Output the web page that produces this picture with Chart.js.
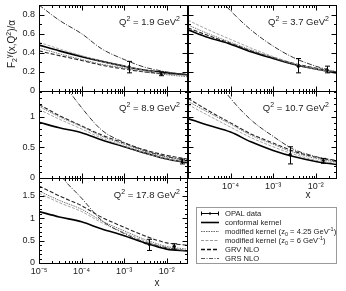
<!DOCTYPE html>
<html>
<head>
<meta charset="utf-8">
<script src="https://cdn.jsdelivr.net/npm/chart.js@4.4.1/dist/chart.umd.min.js"></script>
<style>
  body { margin: 0; background: #fff; }
  #wrap { position: relative; width: 346px; height: 291px; overflow: hidden; font-family: "Liberation Sans", Arial, sans-serif; color: #222; }
  canvas { position: absolute; }
  .lbl { position: absolute; white-space: nowrap; font-size: 10px; line-height: 10px; }
  .lbl sup { font-size: 7px; vertical-align: 4px; line-height: 0; }
  .lbl sub { font-size: 7px; vertical-align: -2px; line-height: 0; }
  .q { font-size: 9.5px; }
  #ylab { left: 12px; top: 44px; transform: translate(-50%, -50%) rotate(-90deg); }
  #legend { position: absolute; left: 196px; top: 207px; width: 141px; height: 57px; border: 1px solid #999; box-sizing: border-box; padding-top: 1px; }
  #legend div { height: 9px; font-size: 7.6px; line-height: 9px; white-space: nowrap; }
  #legend svg { vertical-align: top; margin-left: 3px; margin-right: 5px; }
  #legend sup { font-size: 5.5px; vertical-align: 3px; line-height: 0; }
  #legend sub { font-size: 5.5px; vertical-align: -2px; line-height: 0; }
</style>
</head>
<body>
<div id="wrap">
  <canvas id="c0"></canvas>
  <canvas id="c1"></canvas>
  <canvas id="c2"></canvas>
  <canvas id="c3"></canvas>
  <canvas id="c4"></canvas>
  <div class="lbl" id="ylab">F<sub>2</sub><sup>γ</sup>(x,Q<sup>2</sup>)/α</div>
  <div class="lbl" style="left:157px;top:283px;transform:translate(-50%,-50%)">x</div>
  <div class="lbl" style="left:308px;top:195px;transform:translate(-50%,-50%)">x</div>
  <div id="legend">
    <div><svg width="20" height="9"><path d="M1 4.5H19M1.5 2.5V6.5M18.5 2.5V6.5M10 3V6" stroke="#000" stroke-width="1"/></svg>OPAL data</div>
    <div><svg width="20" height="9"><path d="M1 4.5H19" stroke="#000" stroke-width="1.6"/></svg>conformal kernel</div>
    <div><svg width="20" height="9"><path d="M1 4.5H19" stroke="#666" stroke-width="1" stroke-dasharray="1.5,1"/></svg>modified kernel (z<sub>0</sub> = 4.25 GeV<sup>-1</sup>)</div>
    <div><svg width="20" height="9"><path d="M1 4.5H19" stroke="#999" stroke-width="1" stroke-dasharray="3,1.5"/></svg>modified kernel (z<sub>0</sub> = 6 GeV<sup>-1</sup>)</div>
    <div><svg width="20" height="9"><path d="M1 4.5H19" stroke="#111" stroke-width="1.5" stroke-dasharray="4,2"/></svg>GRV NLO</div>
    <div><svg width="20" height="9"><path d="M1 4.5H19" stroke="#555" stroke-width="1" stroke-dasharray="4,1.5,1,1.5"/></svg>GRS NLO</div>
  </div>
</div>
<script>
// x values where curves are read, one panel per Q^2
const xGrid = [1e-5, 3e-5, 1e-4, 3e-4, 1e-3, 3e-3, 1e-2, 3e-2];
const q2Labels = ['1.9', '3.7', '8.9', '10.7', '17.8'];

const conformal = [
  [0.48, 0.42, 0.36, 0.31, 0.26, 0.22, 0.19, 0.17],
  [0.64, 0.56, 0.49, 0.41, 0.34, 0.28, 0.23, 0.19],
  [0.91, 0.82, 0.74, 0.62, 0.51, 0.41, 0.31, 0.25],
  [0.97, 0.86, 0.75, 0.59, 0.45, 0.35, 0.27, 0.22],
  [1.15, 1.03, 0.92, 0.76, 0.61, 0.45, 0.31, 0.27]
];
const modified425 = [
  [0.45, 0.39, 0.33, 0.28, 0.24, 0.20, 0.17, 0.15],
  [0.69, 0.60, 0.51, 0.43, 0.35, 0.28, 0.23, 0.19],
  [1.17, 1.00, 0.84, 0.68, 0.55, 0.44, 0.34, 0.28],
  [1.25, 1.07, 0.88, 0.70, 0.55, 0.42, 0.32, 0.26],
  [1.61, 1.40, 1.20, 0.94, 0.72, 0.53, 0.37, 0.31]
];
const modified6 = [
  [0.51, 0.44, 0.37, 0.31, 0.26, 0.22, 0.18, 0.16],
  [0.74, 0.64, 0.54, 0.45, 0.36, 0.29, 0.23, 0.19],
  [1.12, 0.96, 0.80, 0.65, 0.52, 0.41, 0.31, 0.26],
  [1.20, 1.02, 0.83, 0.66, 0.51, 0.39, 0.29, 0.24],
  [1.56, 1.35, 1.15, 0.90, 0.68, 0.50, 0.34, 0.28]
];
const grvNlo = [
  [0.42, 0.37, 0.32, 0.27, 0.23, 0.20, 0.18, 0.17],
  [0.66, 0.58, 0.50, 0.42, 0.35, 0.29, 0.24, 0.20],
  [1.20, 1.02, 0.85, 0.70, 0.57, 0.46, 0.37, 0.31],
  [1.30, 1.10, 0.90, 0.72, 0.57, 0.44, 0.34, 0.29],
  [1.72, 1.50, 1.28, 1.02, 0.80, 0.61, 0.45, 0.40]
];
const grsNlo = [
  [0.90, 0.74, 0.60, 0.44, 0.33, 0.25, 0.20, 0.17],
  [1.40, 1.10, 0.84, 0.64, 0.47, 0.35, 0.26, 0.20],
  [2.20, 1.65, 1.15, 0.78, 0.58, 0.45, 0.35, 0.29],
  [2.50, 1.80, 1.30, 0.95, 0.68, 0.47, 0.35, 0.27],
  [2.80, 2.00, 1.45, 0.95, 0.66, 0.47, 0.34, 0.27]
];

// OPAL points
const opalX = [[1.3e-3, 7.5e-3], [3.9e-3, 1.8e-2], [2.3e-2], [2.5e-3, 1.5e-2], [3.9e-3, 1.5e-2]];
const opalY = [[0.25, 0.18], [0.26, 0.22], [0.27], [0.38, 0.28], [0.42, 0.37]];
const opalLo = [[0.19, 0.16], [0.19, 0.19], [0.23], [0.23, 0.24], [0.28, 0.31]];
const opalHi = [[0.31, 0.20], [0.34, 0.26], [0.31], [0.51, 0.32], [0.53, 0.43]];

const xMajor = [1e-5, 1e-4, 1e-3, 1e-2];
const supDigits = {'-': '⁻', '1': '¹', '2': '²', '3': '³', '4': '⁴', '5': '⁵'};

// panel boxes on the page (plot area edges)
const cols = [[39, 188], [188, 337]];
const rows = [[5, 91], [91, 178], [178, 263]];
const panels = [
  {col: 0, row: 0, ymax: 0.9, step: 0.2, yl: true, xl: false},
  {col: 1, row: 0, ymax: 0.9, step: 0.2, yl: false, xl: false},
  {col: 0, row: 1, ymax: 1.42, step: 0.5, yl: true, xl: false},
  {col: 1, row: 1, ymax: 1.42, step: 0.5, yl: false, xl: true, skipFirst: true},
  {col: 0, row: 2, ymax: 1.9, step: 0.5, yl: true, xl: true}
];

// ticks pointing inwards on all four sides + frame + error bars
const frameTicks = {
  id: 'frameTicks',
  afterDatasetsDraw(chart) {
    const {ctx, chartArea: a, scales: {x, y}} = chart;
    const p = chart.options.plugins.frameTicks;
    ctx.save();
    ctx.strokeStyle = '#000';
    ctx.lineWidth = 1;
    // error bars
    const xs = opalX[p.idx];
    ctx.beginPath();
    xs.forEach((v, i) => {
      const px = Math.round(x.getPixelForValue(v)) + 0.5;
      const lo = y.getPixelForValue(opalLo[p.idx][i]);
      const hi = y.getPixelForValue(opalHi[p.idx][i]);
      ctx.moveTo(px, lo); ctx.lineTo(px, hi);
      ctx.moveTo(px - 2.5, lo); ctx.lineTo(px + 2.5, lo);
      ctx.moveTo(px - 2.5, hi); ctx.lineTo(px + 2.5, hi);
    });
    ctx.stroke();
    // frame
    const L = Math.round(a.left) + 0.5, R = Math.round(a.right) + 0.5;
    const T = Math.round(a.top) + 0.5, B = Math.round(a.bottom) + 0.5;
    ctx.strokeRect(L, T, R - L, B - T);
    ctx.beginPath();
    for (let d = -5; d <= -2; d++) {
      for (let m = 1; m <= 9; m++) {
        const v = m * Math.pow(10, d);
        if (v < x.min || v > x.max) continue;
        const px = Math.round(x.getPixelForValue(v)) + 0.5;
        const len = m === 1 ? 5 : 2.5;
        ctx.moveTo(px, B); ctx.lineTo(px, B - len);
        ctx.moveTo(px, T); ctx.lineTo(px, T + len);
      }
    }
    for (let k = 0; k * 0.1 <= y.max + 1e-9; k++) {
      const v = k * 0.1;
      const major = Math.abs(v / p.step - Math.round(v / p.step)) < 1e-6;
      const py = Math.round(y.getPixelForValue(v)) + 0.5;
      const len = major ? 5 : 2.5;
      ctx.moveTo(L, py); ctx.lineTo(L + len, py);
      ctx.moveTo(R, py); ctx.lineTo(R - len, py);
    }
    ctx.stroke();
    ctx.restore();
  }
};

function lineSet(values, color, width, dash) {
  return {
    data: xGrid.map((x, i) => ({x: x, y: values[i]})),
    showLine: true,
    borderColor: color,
    borderWidth: width,
    borderDash: dash,
    pointRadius: 0,
    cubicInterpolationMode: 'monotone',
    fill: false
  };
}

const font = {family: '"Liberation Sans", Arial, sans-serif', size: 9};

panels.forEach((p, idx) => {
  const [l, r] = cols[p.col];
  const [t, b] = rows[p.row];
  const padL = 40, padR = 4, padT = 5, padB = p.xl ? 24 : 8;
  const cv = document.getElementById('c' + idx);
  cv.width = r - l + padL + padR;
  cv.height = b - t + padT + padB;
  cv.style.left = (l - padL) + 'px';
  cv.style.top = (t - padT) + 'px';

  const yMajor = [];
  for (let v = 0; v <= p.ymax + 1e-9; v += p.step) yMajor.push(Math.round(v * 10) / 10);

  new Chart(cv.getContext('2d'), {
    type: 'scatter',
    data: {
      datasets: [
        lineSet(grsNlo[idx], '#333', 1, [5, 1.5, 1, 1.5]),
        lineSet(modified6[idx], '#9a9a9a', 0.9, [3, 1.5]),
        lineSet(modified425[idx], '#666', 0.9, [1.5, 1]),
        lineSet(grvNlo[idx], '#222', 1.1, [4, 2]),
        lineSet(conformal[idx], '#000', 1.6, []),
        {
          data: opalX[idx].map((x, i) => ({x: x, y: opalY[idx][i]})),
          pointRadius: 1.3,
          backgroundColor: '#000',
          borderColor: '#000'
        }
      ]
    },
    options: {
      responsive: false,
      animation: false,
      events: [],
      layout: {padding: {left: 0, top: padT, right: padR, bottom: 0}},
      plugins: {legend: {display: false}, tooltip: {enabled: false}, frameTicks: {idx: idx, step: p.step}},
      scales: {
        x: {
          type: 'logarithmic', min: 1e-5, max: 0.03,
          grid: {display: false, drawTicks: false}, border: {display: false},
          ticks: {
            display: p.xl, font: font, color: '#222', padding: 3, maxRotation: 0, autoSkip: false,
            callback: v => (p.skipFirst && v === 1e-5) ? '' :
              '10' + String(Math.round(Math.log10(v))).split('').map(c => supDigits[c]).join('')
          },
          afterBuildTicks: s => { s.ticks = xMajor.map(v => ({value: v})); },
          afterFit: s => { s.height = padB; s.paddingLeft = 0; s.paddingRight = 0; }
        },
        y: {
          min: 0, max: p.ymax,
          grid: {display: false, drawTicks: false}, border: {display: false},
          ticks: {display: p.yl, font: font, color: '#222', padding: 4, callback: v => String(v)},
          afterBuildTicks: s => { s.ticks = yMajor.map(v => ({value: v})); },
          afterFit: s => { s.width = padL; s.paddingTop = 0; s.paddingBottom = 0; }
        }
      }
    },
    plugins: [frameTicks]
  });

  // Q^2 label, top right of each panel
  const q = document.createElement('div');
  q.className = 'lbl q';
  q.style.right = (346 - r + 8) + 'px';
  q.style.top = (t + 12) + 'px';
  q.innerHTML = 'Q<sup>2</sup> = ' + q2Labels[idx] + ' GeV<sup>2</sup>';
  document.getElementById('wrap').appendChild(q);
});
</script>
</body>
</html>
